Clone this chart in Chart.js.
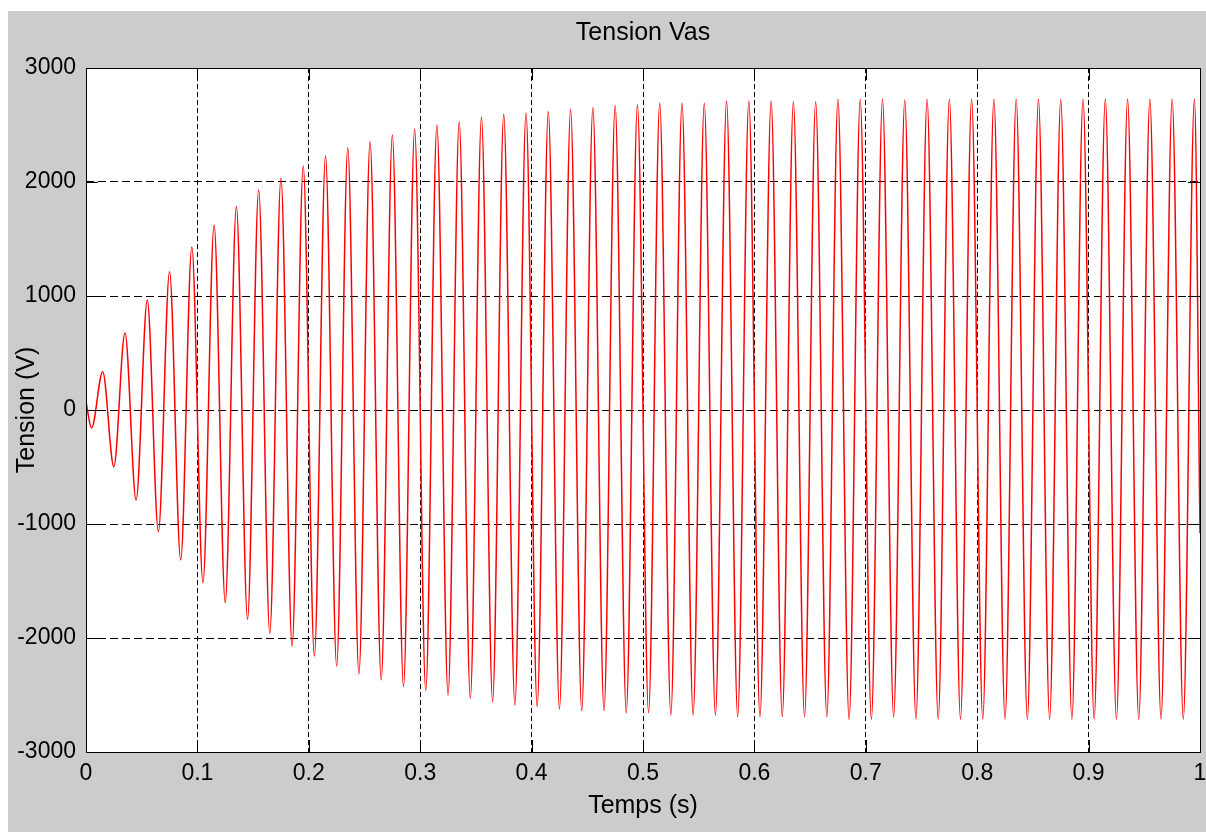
<!DOCTYPE html>
<html>
<head>
<meta charset="utf-8">
<title>Tension Vas</title>
<script src="https://cdn.jsdelivr.net/npm/chart.js@4.4.1/dist/chart.umd.min.js"></script>
<style>
  html, body { margin: 0; padding: 0; background: #ffffff; overflow: hidden; }
  #wrap { position: absolute; left: 8px; top: 11px; width: 1198px; height: 821px; background: #cccccc; }
  canvas { display: block; }
</style>
</head>
<body>
<div id="wrap"><canvas id="chartVas" width="1198" height="821"></canvas></div>
<script>
/* ===========================
   Daten (aus dem Bild gelesen)
   =========================== */

const titre = "Tension Vas";

// Startwert und Endwert der Kurve
const tempsDebut = 0;
const tensionDebut = 70;
const tempsFin = 1;
const tensionFin = -1080;

// Maxima (s, V)
const tempsMax = [
  0.015, 0.035, 0.055, 0.075, 0.095, 0.115, 0.135, 0.155, 0.175, 0.195,
  0.215, 0.235, 0.255, 0.275, 0.295, 0.315, 0.335, 0.355, 0.375, 0.395,
  0.415, 0.435, 0.455, 0.475, 0.495, 0.515, 0.535, 0.555, 0.575, 0.595,
  0.615, 0.635, 0.655, 0.675, 0.695, 0.715, 0.735, 0.755, 0.775, 0.795,
  0.815, 0.835, 0.855, 0.875, 0.895, 0.915, 0.935, 0.955, 0.975, 0.995
];
const tensionMax = [
  336, 675, 965, 1213, 1430, 1623, 1785, 1930, 2032, 2140,
  2228, 2301, 2354, 2412, 2462, 2500, 2529, 2567, 2594, 2602,
  2617, 2637, 2652, 2669, 2675, 2690, 2690, 2690, 2711, 2711,
  2711, 2705, 2705, 2725, 2725, 2725, 2719, 2725, 2725, 2725,
  2725, 2725, 2725, 2725, 2725, 2725, 2725, 2725, 2725, 2725
];

// Minima (s, V)
const tempsMin = [
  0.005, 0.025, 0.045, 0.065, 0.085, 0.105, 0.125, 0.145, 0.165, 0.185,
  0.205, 0.225, 0.245, 0.265, 0.285, 0.305, 0.325, 0.345, 0.365, 0.385,
  0.405, 0.425, 0.445, 0.465, 0.485, 0.505, 0.525, 0.545, 0.565, 0.585,
  0.605, 0.625, 0.645, 0.665, 0.685, 0.705, 0.725, 0.745, 0.765, 0.785,
  0.805, 0.825, 0.845, 0.865, 0.885, 0.905, 0.925, 0.945, 0.965, 0.985
];
const tensionMin = [
  -158, -497, -790, -1067, -1316, -1515, -1690, -1836, -1959, -2070,
  -2158, -2246, -2316, -2368, -2427, -2462, -2500, -2529, -2559, -2588,
  -2602, -2623, -2637, -2637, -2655, -2655, -2675, -2675, -2675, -2690,
  -2690, -2690, -2690, -2690, -2713, -2713, -2690, -2710, -2710, -2710,
  -2710, -2710, -2710, -2710, -2710, -2710, -2710, -2710, -2710, -2710
];

// Achsenbeschriftungen
const xTicks = [0, 0.1, 0.2, 0.3, 0.4, 0.5, 0.6, 0.7, 0.8, 0.9, 1];
const xTickLabels = ["0", "0.1", "0.2", "0.3", "0.4", "0.5", "0.6", "0.7", "0.8", "0.9", "1"];
const yTicks = [-3000, -2000, -1000, 0, 1000, 2000, 3000];
const yTickLabels = ["-3000", "-2000", "-1000", "0", "1000", "2000", "3000"];

/* ===========================
   Punkte zusammenstellen
   =========================== */

const points = [{ x: tempsDebut, y: tensionDebut }];
tempsMin.forEach((t, i) => points.push({ x: t, y: tensionMin[i] }));
tempsMax.forEach((t, i) => points.push({ x: t, y: tensionMax[i] }));
points.push({ x: tempsFin, y: tensionFin });
points.sort((a, b) => a.x - b.x);

const FONT = "'Liberation Sans', Arial, sans-serif";
const TICK_LEN = 12;

// weißer Plotbereich + Titel über der Achse zentriert
const areaPlugin = {
  id: "areaPlugin",
  beforeDraw(chart) {
    const { ctx, chartArea: a } = chart;
    ctx.save();
    ctx.fillStyle = "#ffffff";
    ctx.fillRect(a.left, a.top, a.right - a.left, a.bottom - a.top);
    ctx.fillStyle = "#000";
    ctx.font = "25px " + FONT;
    ctx.textAlign = "center";
    ctx.textBaseline = "middle";
    ctx.fillText(titre, (a.left + a.right) / 2, 22);
    ctx.restore();
  }
};

// Rahmen + Ticks nach innen (Matlab-Stil)
const boxPlugin = {
  id: "boxPlugin",
  afterDatasetsDraw(chart) {
    const { ctx, chartArea: a, scales } = chart;
    ctx.save();
    ctx.strokeStyle = "#000";
    ctx.lineWidth = 1;
    ctx.setLineDash([]);
    ctx.beginPath();
    xTicks.forEach(v => {
      const px = Math.round(scales.x.getPixelForValue(v)) + 0.5;
      ctx.moveTo(px, a.top);
      ctx.lineTo(px, a.top + TICK_LEN);
      ctx.moveTo(px, a.bottom);
      ctx.lineTo(px, a.bottom - TICK_LEN);
    });
    yTicks.forEach(v => {
      const py = Math.round(scales.y.getPixelForValue(v)) + 0.5;
      ctx.moveTo(a.left, py);
      ctx.lineTo(a.left + TICK_LEN, py);
      ctx.moveTo(a.right, py);
      ctx.lineTo(a.right - TICK_LEN, py);
    });
    ctx.stroke();
    ctx.strokeRect(Math.round(a.left) + 0.5, Math.round(a.top) + 0.5,
      Math.round(a.right - a.left), Math.round(a.bottom - a.top));
    ctx.restore();
  }
};

new Chart(document.getElementById("chartVas"), {
  type: "line",
  data: {
    datasets: [{
      label: "Vas",
      data: points,
      borderColor: "#ff0000",
      borderWidth: 1.5,
      pointRadius: 0,
      fill: false,
      cubicInterpolationMode: "monotone"
    }]
  },
  options: {
    responsive: false,
    animation: false,
    devicePixelRatio: 1,
    layout: { padding: { left: 0, right: 6, top: 57, bottom: 0 } },
    plugins: {
      legend: { display: false },
      tooltip: { enabled: false },
      title: { display: false }
    },
    scales: {
      x: {
        type: "linear",
        min: 0,
        max: 1,
        afterBuildTicks: axis => { axis.ticks = xTicks.map(v => ({ value: v })); },
        afterFit: scale => {
          scale.height = 80;
          scale.paddingLeft = 0;
          scale.paddingRight = 0;
        },
        ticks: {
          autoSkip: false,
          maxRotation: 0,
          padding: 8,
          color: "#000",
          font: { family: FONT, size: 23 },
          callback: (v, i) => xTickLabels[i]
        },
        grid: {
          color: "#000",
          lineWidth: 1,
          drawTicks: false
        },
        border: { display: false, dash: [5, 3] },
        title: {
          display: true,
          text: "Temps (s)",
          color: "#000",
          font: { family: FONT, size: 25 },
          padding: { top: 0, bottom: 11 }
        }
      },
      y: {
        type: "linear",
        min: -3000,
        max: 3000,
        afterBuildTicks: axis => { axis.ticks = yTicks.map(v => ({ value: v })); },
        afterFit: scale => {
          scale.width = 78;
          scale.paddingTop = 0;
          scale.paddingBottom = 0;
        },
        ticks: {
          autoSkip: false,
          padding: 10,
          color: "#000",
          font: { family: FONT, size: 23 },
          callback: (v, i) => yTickLabels[i]
        },
        grid: {
          color: "#000",
          lineWidth: 1,
          drawTicks: false
        },
        border: { display: false, dash: [8, 4] },
        title: {
          display: true,
          text: "Tension (V)",
          color: "#000",
          font: { family: FONT, size: 25 },
          padding: { top: 4, bottom: 0 }
        }
      }
    }
  },
  plugins: [areaPlugin, boxPlugin]
});
</script>
</body>
</html>
